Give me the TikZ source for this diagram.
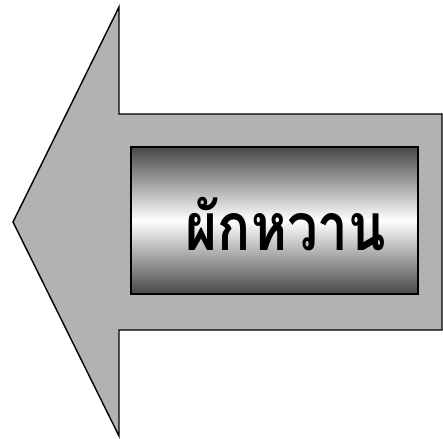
\documentclass[tikz,border=0pt]{standalone}
\usepackage{fontspec}
\newfontfamily\thaifont[Script=Thai]{Loma}
\tikzset{
  arrowshape/.style={draw=black, line width=1.4pt, fill=black!30, line join=miter},
  labelbox/.style={draw=black, line width=1.6pt, top color=black!72, bottom color=black!72, middle color=white, minimum width=287pt, minimum height=147pt, inner sep=0pt},
  labeltext/.style={font=\thaifont\bfseries\fontsize{66}{72}\selectfont, text=black, inner sep=0pt, xscale=0.83, transform shape}
}
\begin{document}
\begin{tikzpicture}[x=1pt,y=-1pt]
\useasboundingbox (0,0) rectangle (443,438);
\draw[arrowshape] (13,222) -- (119,7) -- (119,114) -- (442,114) -- (442,330) -- (119,330) -- (119,436) -- cycle;
\node[labelbox] (box) at (274.5,220.5) {};
\node[labeltext, anchor=base] (word) at (286,250) {ผักหวาน};
\end{tikzpicture}
\end{document}
